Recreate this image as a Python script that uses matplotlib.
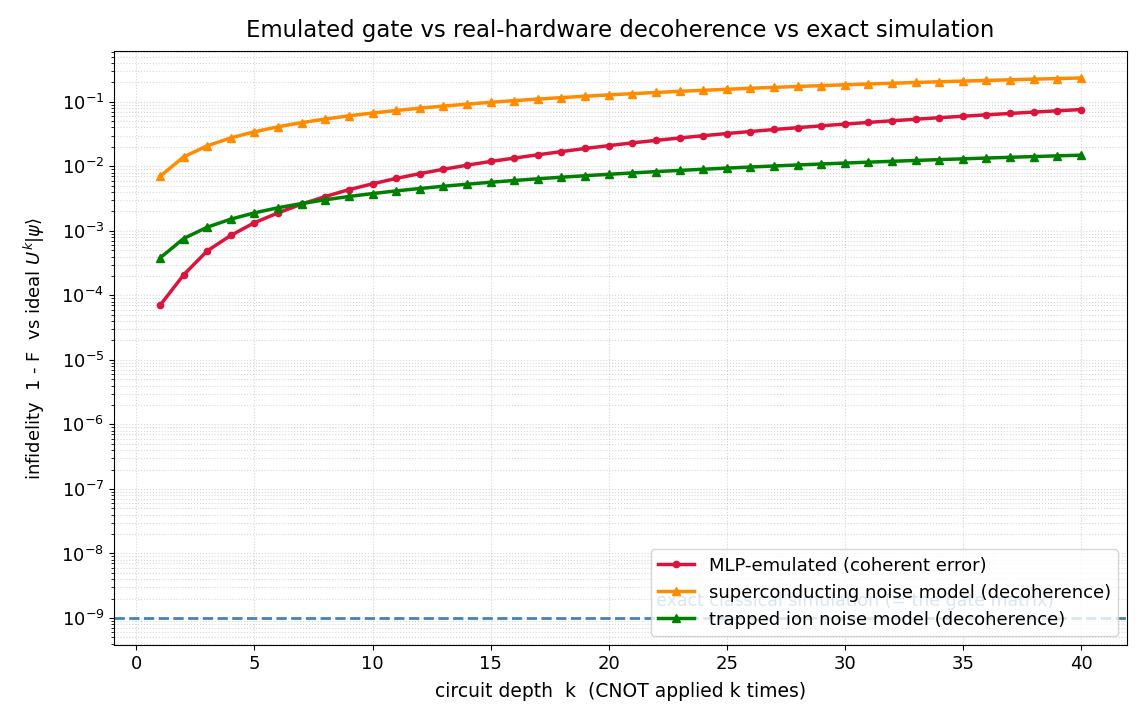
import matplotlib
matplotlib.use("Agg")
import matplotlib.pyplot as plt

depth = list(range(1, 41))

# MLP-emulated gate, coherent error
mlp_infid = [7.0e-5, 2.08e-4, 4.9e-4, 8.5e-4, 1.34e-3, 1.9e-3, 2.6e-3, 3.4e-3, 4.35e-3, 5.35e-3,
             6.5e-3, 7.7e-3, 9.0e-3, 1.04e-2, 1.19e-2, 1.34e-2, 1.51e-2, 1.69e-2, 1.89e-2, 2.09e-2,
             2.31e-2, 2.52e-2, 2.75e-2, 2.98e-2, 3.22e-2, 3.46e-2, 3.72e-2, 3.97e-2, 4.24e-2, 4.51e-2,
             4.79e-2, 5.08e-2, 5.37e-2, 5.67e-2, 5.97e-2, 6.28e-2, 6.60e-2, 6.92e-2, 7.25e-2, 7.58e-2]

# superconducting noise model
sc_infid = [0.0070, 0.0140, 0.0208, 0.0276, 0.0343, 0.0410, 0.0476, 0.0541, 0.0606, 0.0670,
            0.0733, 0.0796, 0.0858, 0.0920, 0.0981, 0.1042, 0.1102, 0.1161, 0.1220, 0.1279,
            0.1337, 0.1394, 0.1451, 0.1507, 0.1563, 0.1618, 0.1673, 0.1727, 0.1781, 0.1834,
            0.1887, 0.1939, 0.1991, 0.2042, 0.2093, 0.2143, 0.2193, 0.2242, 0.2291, 0.2340]

# trapped ion noise model
ion_infid = [0.00038, 0.00076, 0.00114, 0.00152, 0.00190, 0.00228, 0.00265, 0.00303, 0.00341, 0.00378,
             0.00416, 0.00453, 0.00491, 0.00528, 0.00566, 0.00603, 0.00641, 0.00678, 0.00715, 0.00752,
             0.00790, 0.00827, 0.00864, 0.00901, 0.00938, 0.00975, 0.01012, 0.01049, 0.01086, 0.01123,
             0.01160, 0.01196, 0.01233, 0.01270, 0.01306, 0.01343, 0.01380, 0.01416, 0.01453, 0.01489]

exact_level = 1e-9

plt.rcParams["font.size"] = 13

fig, ax = plt.subplots(figsize=(11.48, 7.28), dpi=100)
fig.subplots_adjust(left=0.0993, right=0.9817, top=0.930, bottom=0.114)

ax.plot(depth, mlp_infid, color="crimson", marker="o", markersize=4.5, lw=2.5,
        label="MLP-emulated (coherent error)")
ax.plot(depth, sc_infid, color="darkorange", marker="^", markersize=5.5, lw=2.5,
        label="superconducting noise model (decoherence)")
ax.plot(depth, ion_infid, color="green", marker="^", markersize=5.5, lw=2.5,
        label="trapped ion noise model (decoherence)")
ax.axhline(exact_level, color="steelblue", ls="--", lw=2)
ax.text(22, exact_level * 1.35, "exact classical simulation (= the gate matrix)",
        color="steelblue", fontsize=12.5, ha="left", va="bottom")

ax.set_yscale("log")
ax.set_xlabel("circuit depth  k  (CNOT applied k times)", fontsize=13.5, labelpad=7)
ax.set_ylabel(r"infidelity  1 - F  vs ideal $U^k|\psi\rangle$", labelpad=10)
ax.set_title("Emulated gate vs real-hardware decoherence vs exact simulation",
             fontsize=16.4, pad=10)
ax.grid(True, which="both", ls=":", alpha=0.5)
ax.legend(loc="lower right")

plt.savefig("out.png", dpi=100)
